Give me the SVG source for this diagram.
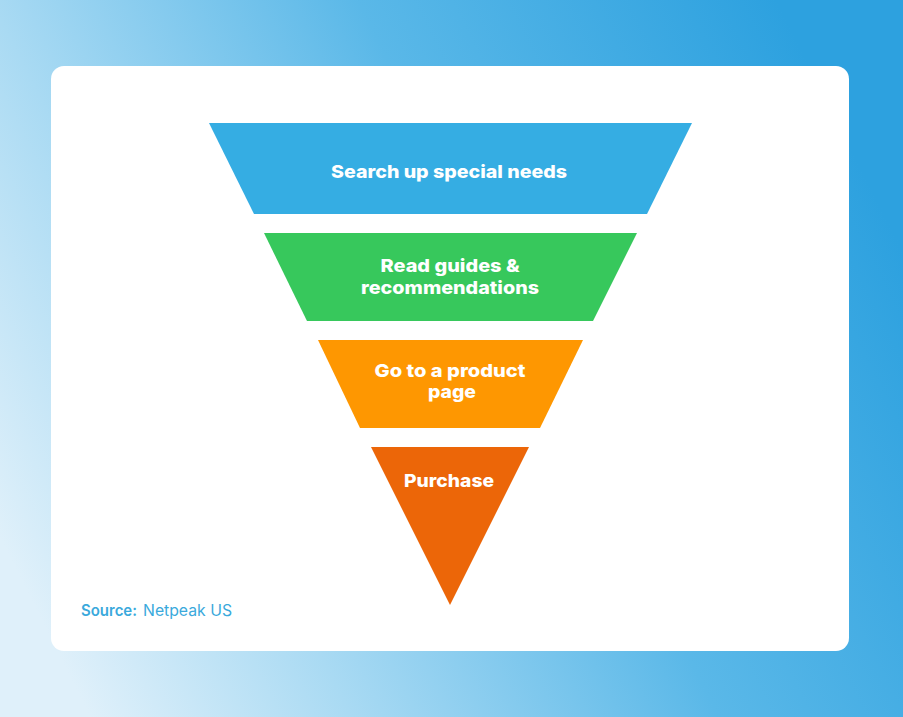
<svg xmlns="http://www.w3.org/2000/svg" width="903" height="717" viewBox="0 0 903 717">
<defs>
<linearGradient id="bg" x1="0" y1="0.75" x2="1" y2="0.35">
<stop offset="0" stop-color="#dff0fa"/>
<stop offset="0.25" stop-color="#a9daf3"/>
<stop offset="0.6" stop-color="#5ab8e8"/>
<stop offset="1" stop-color="#2da1df"/>
</linearGradient>
<style>
.lbl{font-family:Inter,"Open Sans","Liberation Sans",sans-serif;font-weight:800;font-size:18px;fill:#ffffff;text-anchor:middle}
.src{font-family:Inter,"Open Sans","Liberation Sans",sans-serif;font-size:15.5px;fill:#3aa9dc}
</style>
</defs>
<rect width="903" height="717" fill="url(#bg)"/>
<rect x="51" y="66" width="798" height="585" rx="13" fill="#ffffff"/>
<g id="stage1">
<polygon points="209,123 692,123 647,214 254,214" fill="#35ade3"/>
<text class="lbl" x="449" y="178" textLength="236" lengthAdjust="spacingAndGlyphs">Search up special needs</text>
</g>
<g id="stage2">
<polygon points="264,233 637,233 593,321 307,321" fill="#37c85c"/>
<text class="lbl" x="450" y="272" textLength="139" lengthAdjust="spacingAndGlyphs">Read guides &amp;</text>
<text class="lbl" x="450" y="294" textLength="178" lengthAdjust="spacingAndGlyphs">recommendations</text>
</g>
<g id="stage3">
<polygon points="318,340 583,340 540,428 360,428" fill="#fe9701"/>
<text class="lbl" x="450" y="377" textLength="151" lengthAdjust="spacingAndGlyphs">Go to a product</text>
<text class="lbl" x="452" y="398" textLength="48" lengthAdjust="spacingAndGlyphs">page</text>
</g>
<g id="stage4">
<polygon points="371,447 529,447 450,605" fill="#ec6608"/>
<text class="lbl" x="449" y="487" textLength="90" lengthAdjust="spacingAndGlyphs">Purchase</text>
</g>
<g id="connectors"/>
<text class="src" x="81" y="616"><tspan font-weight="600" textLength="56" lengthAdjust="spacingAndGlyphs">Source:</tspan><tspan x="143" textLength="89" lengthAdjust="spacingAndGlyphs">Netpeak US</tspan></text>
</svg>
